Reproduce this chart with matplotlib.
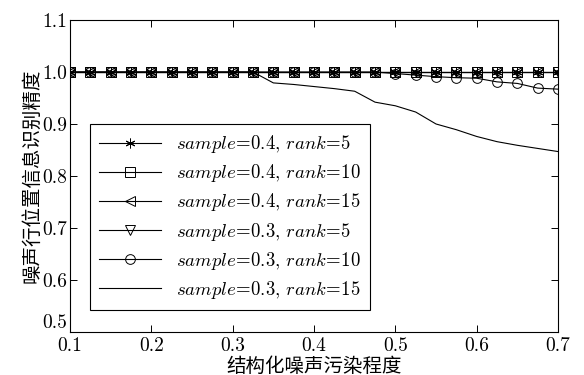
import numpy as np
import matplotlib
matplotlib.use("Agg")
import matplotlib.pyplot as plt

# noise level on the x axis (0.1 .. 0.7, step 0.025)
noise = [0.1, 0.125, 0.15, 0.175, 0.2, 0.225, 0.25, 0.275, 0.3, 0.325,
         0.35, 0.375, 0.4, 0.425, 0.45, 0.475, 0.5, 0.525, 0.55, 0.575,
         0.6, 0.625, 0.65, 0.675, 0.7]

acc_s04_r5 = [1.0] * 25
acc_s04_r10 = [1.0] * 25
acc_s04_r15 = [1.0] * 25
acc_s03_r5 = [1.0] * 25
acc_s03_r10 = [1.0] * 16 + [0.997, 0.994, 0.991, 0.989, 0.988,
                            0.981, 0.978, 0.969, 0.967]
acc_s03_r15 = [1.0] * 10 + [0.979, 0.976, 0.972, 0.968, 0.963,
                            0.942, 0.935, 0.923, 0.900, 0.889,
                            0.876, 0.866, 0.859, 0.853, 0.847]

labels = [
    r"$\mathit{sample}\!=\!0.4,\,\mathit{rank}\!=\!5$",
    r"$\mathit{sample}\!=\!0.4,\,\mathit{rank}\!=\!10$",
    r"$\mathit{sample}\!=\!0.4,\,\mathit{rank}\!=\!15$",
    r"$\mathit{sample}\!=\!0.3,\,\mathit{rank}\!=\!5$",
    r"$\mathit{sample}\!=\!0.3,\,\mathit{rank}\!=\!10$",
    r"$\mathit{sample}\!=\!0.3,\,\mathit{rank}\!=\!15$",
]
series = [acc_s04_r5, acc_s04_r10, acc_s04_r15, acc_s03_r5, acc_s03_r10, acc_s03_r15]
markers = [(6, 2, 0), "s", "<", "v", "o", None]

plt.rcParams["mathtext.fontset"] = "cm"
plt.rcParams["font.family"] = ["cmr10", "Noto Sans CJK SC"]
plt.rcParams["axes.formatter.use_mathtext"] = True

fig = plt.figure(figsize=(5.84, 3.75), dpi=100)
ax = fig.add_axes([0.1199, 0.1147, 0.8356, 0.832])

for ys, mk, lab in zip(series, markers, labels):
    ax.plot(noise, ys, color="black", linewidth=0.8, marker=mk,
            markersize=7, markerfacecolor="none",
            markeredgecolor="black", markeredgewidth=0.7, label=lab)

ax.set_xlim(0.1, 0.7)
ax.set_ylim(0.5, 1.1)
ax.set_xticks(np.arange(0.1, 0.71, 0.1))
ax.set_yticks(np.arange(0.5, 1.11, 0.1))
ax.set_xticklabels([f"{v:.1f}" for v in np.arange(0.1, 0.71, 0.1)])
ax.set_yticklabels([f"{v:.1f}" for v in np.arange(0.5, 1.11, 0.1)])
ax.tick_params(direction="in", top=True, right=True, labelsize=14, length=5, width=0.7)
ax.tick_params(axis="x", pad=4)
ax.tick_params(axis="y", pad=2)
# the lowest y label sits just above the corner, as in the original
ax.get_yticklabels()[0].set_va("bottom")
for sp in ax.spines.values():
    sp.set_linewidth(0.8)

ax.set_xlabel("结构化噪声污染程度", fontsize=14, family="Noto Sans CJK SC", labelpad=0)
ax.set_ylabel("噪声行位置信息识别精度", fontsize=14, family="Noto Sans CJK SC", labelpad=0)

leg = ax.legend(loc="lower left", bbox_to_anchor=(0.041, 0.07), borderaxespad=0,
                fontsize=13.5, handlelength=3.3, labelspacing=0.38, fancybox=False,
                framealpha=1, edgecolor="black", borderpad=0.5)
leg.get_frame().set_linewidth(0.8)

fig.savefig("out.png", dpi=100)
